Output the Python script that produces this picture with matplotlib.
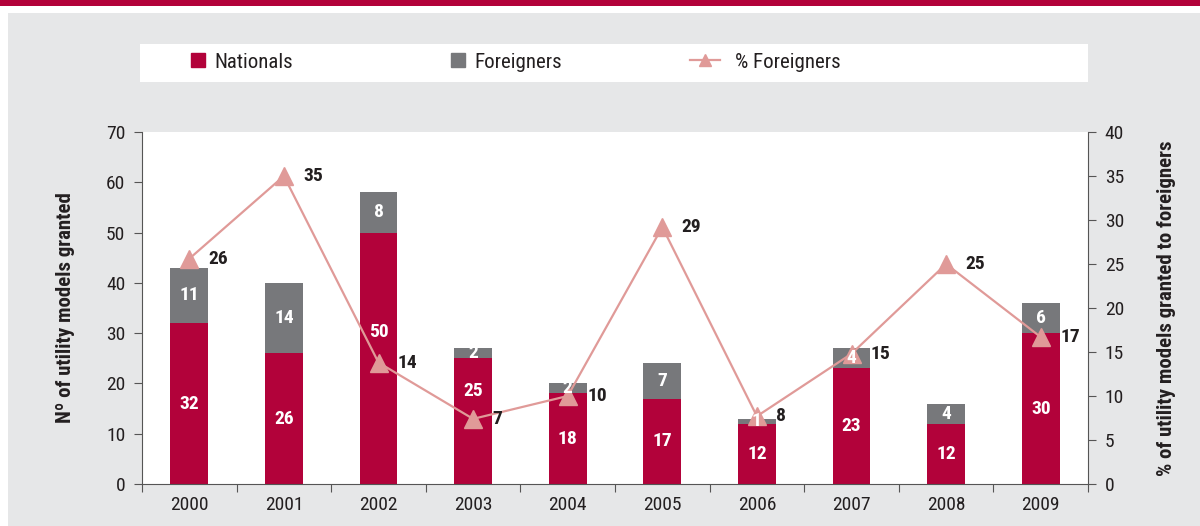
import numpy as np
import matplotlib.pyplot as plt
from matplotlib.patches import Rectangle
from matplotlib.lines import Line2D

# data
years = ['2000', '2001', '2002', '2003', '2004', '2005', '2006', '2007', '2008', '2009']
nationals = [32, 26, 50, 25, 18, 17, 12, 23, 12, 30]
foreigners = [11, 14, 8, 2, 2, 7, 1, 4, 4, 6]
pct_foreign = [25.6, 35.0, 13.8, 7.4, 10.0, 29.2, 7.7, 14.8, 25.0, 16.7]
pct_labels = ['26', '35', '14', '7', '10', '29', '8', '15', '25', '17']

red = '#B2023A'
grey = '#77787B'
pink = '#E09A98'
txt = '#231F20'

plt.rcParams['font.family'] = ['Roboto Condensed', 'Liberation Sans Narrow', 'Liberation Sans', 'DejaVu Sans']

fig = plt.figure(figsize=(12, 5.26), dpi=100)
fig.patch.set_facecolor('white')
W, H = 1200.0, 526.0
# header band + grey panel
fig.patches.append(Rectangle((0, 1 - 6 / H), 1, 6 / H, transform=fig.transFigure,
                             facecolor=red, edgecolor='none', zorder=-3))
fig.patches.append(Rectangle((8 / W, 0), 1, 1 - 13 / H, transform=fig.transFigure,
                             facecolor='#E6E7E8', edgecolor='none', zorder=-3))
# legend box
fig.patches.append(Rectangle((140 / W, 1 - 82 / H), 948 / W, 38 / H, transform=fig.transFigure,
                             facecolor='white', edgecolor='none', zorder=-2))

ax = fig.add_axes([142 / W, 42 / H, 946 / W, 352 / H])
ax.set_facecolor('white')
x = np.arange(len(years))
w = 0.40
ax.bar(x, nationals, w, color=red, zorder=2)
ax.bar(x, foreigners, w, bottom=nationals, color=grey, zorder=2)

ax.set_ylim(0, 70)
ax.set_yticks(range(0, 71, 10))
ax.set_xlim(-0.5, len(years) - 0.5)
ax.set_xticks(np.arange(-0.5, len(years), 1))
ax.set_xticklabels([])
ax.set_xticks(x, minor=True)
ax.set_xticklabels(years, minor=True)
ax.tick_params(axis='x', which='major', length=6, direction='out', color='#555555')
ax.tick_params(axis='x', which='minor', length=0, pad=9, labelsize=14, labelcolor=txt)
ax.tick_params(axis='y', length=6, color='#555555', labelsize=14, labelcolor=txt, pad=6)
for s in ['top', 'right']:
    ax.spines[s].set_visible(False)
for s in ['left', 'bottom']:
    ax.spines[s].set_color('#555555')
ax.set_ylabel('Nº of utility models granted', fontsize=15, fontweight='bold', color=txt, labelpad=22)

ax2 = ax.twinx()
ax2.patch.set_visible(False)
ax2.plot(x, pct_foreign, color=pink, lw=1.6, marker='^', markersize=13, zorder=3)
ax2.set_ylim(0, 40)
ax2.set_yticks(range(0, 41, 5))
ax2.tick_params(axis='y', length=6, color='#555555', labelsize=14, labelcolor=txt, pad=6)
for s in ['top', 'left', 'bottom']:
    ax2.spines[s].set_visible(False)
ax2.spines['right'].set_color('#555555')
ax2.set_ylabel('% of utility models granted to foreigners', fontsize=15, fontweight='bold',
               color=txt, labelpad=24)

# nationals labels moved up where the line would cover them
lift = {2: 5.3, 3: 5.9}

# bar labels (on top of the line)
for i in range(len(years)):
    ax2.text(x[i], nationals[i] / 2 + lift.get(i, 0), str(nationals[i]), transform=ax.transData,
             ha='center', va='center', color='white', fontsize=14, fontweight='bold', zorder=5)
    ax2.text(x[i], nationals[i] + foreigners[i] / 2, str(foreigners[i]), transform=ax.transData,
             ha='center', va='center', color='white', fontsize=14, fontweight='bold', zorder=5)
    ax2.annotate(pct_labels[i], (x[i], pct_foreign[i]), xytext=(14, 0), textcoords='offset points',
                 ha='left', va='center', color=txt, fontsize=14, fontweight='bold', zorder=5)

# legend, one entry at a time to place them like the original
items = [
    (Line2D([], [], ls='none', marker='s', markersize=9.5, color=red), 'Nationals', 188, 1.0, 0.25),
    (Line2D([], [], ls='none', marker='s', markersize=9.5, color=grey), 'Foreigners', 448, 1.0, 0.25),
    (Line2D([], [], color=pink, lw=1.6, marker='^', markersize=9), '% Foreigners', 690, 1.45, 0.7),
]
for h, lab, xpos, hl, tp in items:
    leg = fig.legend([h], [lab], frameon=False, loc='center left',
                     bbox_to_anchor=(xpos / W, 1 - 62 / H), fontsize=15, borderpad=0,
                     borderaxespad=0, handlelength=hl, handletextpad=tp)
    for t in leg.get_texts():
        t.set_color(txt)

fig.savefig('out.png', dpi=100)
